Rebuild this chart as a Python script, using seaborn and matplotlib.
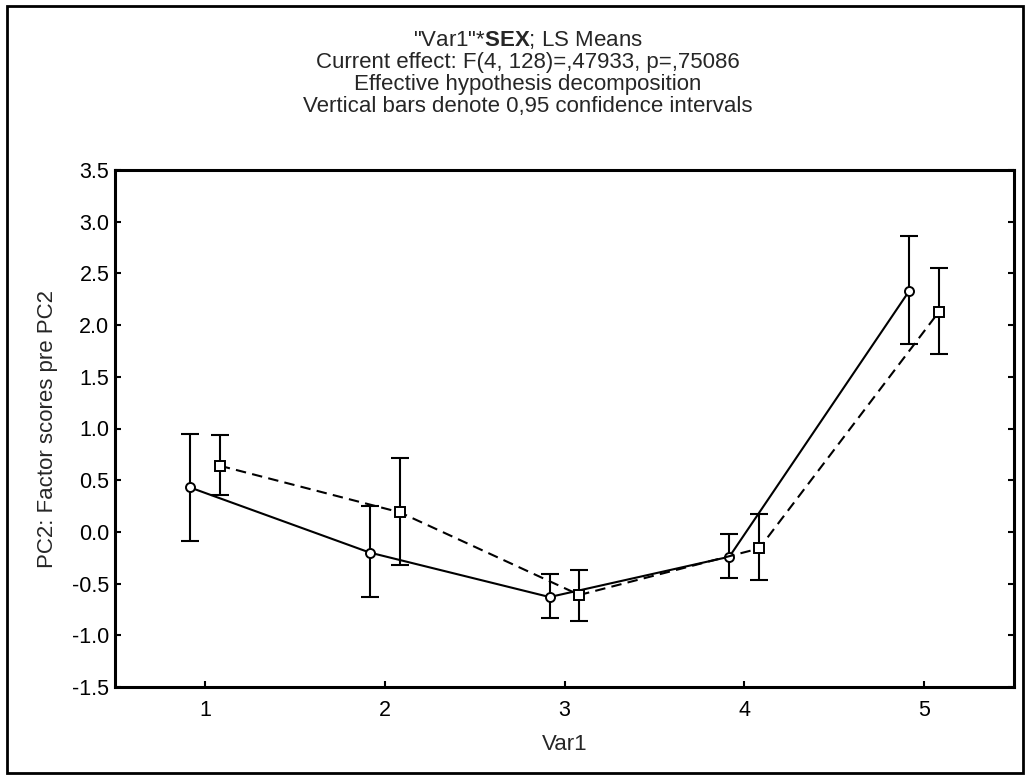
import numpy as np
import pandas as pd
import seaborn as sns
import matplotlib.pyplot as plt
from matplotlib.patches import Rectangle

# LS means and 0.95 CI
var1 = [1, 2, 3, 4, 5]
sex1_mean = [0.43, -0.20, -0.63, -0.24, 2.33]
sex1_lo = [-0.09, -0.63, -0.83, -0.45, 1.82]
sex1_hi = [0.95, 0.25, -0.41, -0.02, 2.86]
sex2_mean = [0.64, 0.19, -0.61, -0.16, 2.13]
sex2_lo = [0.36, -0.32, -0.86, -0.47, 1.72]
sex2_hi = [0.94, 0.71, -0.37, 0.17, 2.55]
y_ticks = [-1.5, -1.0, -0.5, 0.0, 0.5, 1.0, 1.5, 2.0, 2.5, 3.0, 3.5]

sns.set_style('ticks')
plt.rcParams['font.family'] = ['Liberation Sans', 'DejaVu Sans']
plt.rcParams['mathtext.fontset'] = 'custom'
plt.rcParams['mathtext.rm'] = 'Liberation Sans'
plt.rcParams['mathtext.bf'] = 'Liberation Sans:bold'

dodge = 0.083
df = pd.concat([
    pd.DataFrame({'Var1': var1, 'SEX': '1', 'mean': sex1_mean, 'lo': sex1_lo, 'hi': sex1_hi,
                  'x': np.array(var1) - dodge}),
    pd.DataFrame({'Var1': var1, 'SEX': '2', 'mean': sex2_mean, 'lo': sex2_lo, 'hi': sex2_hi,
                  'x': np.array(var1) + dodge}),
], ignore_index=True)

fig = plt.figure(figsize=(10.29, 7.78), dpi=100)
ax = fig.add_axes([115 / 1029, 1 - 687 / 778, (1014 - 115) / 1029, (687 - 170) / 778])

# confidence interval bars first, markers on top
ax.errorbar(df['x'], df['mean'], yerr=[df['mean'] - df['lo'], df['hi'] - df['mean']],
            fmt='none', ecolor='black', elinewidth=1.5, capsize=6.5, capthick=1.5, zorder=2)

sns.lineplot(data=df, x='x', y='mean', style='SEX', color='black',
             markers={'1': 'o', '2': 's'}, dashes={'1': '', '2': (5, 3)},
             markersize=6.5, markerfacecolor='white', markeredgecolor='black',
             markeredgewidth=1.4, linewidth=1.5, legend=False, ax=ax, zorder=3)

ax.set_xlim(0.5, 5.5)
ax.set_ylim(-1.5, 3.5)
ax.set_xticks(var1)
ax.set_xticklabels([str(v) for v in var1])
ax.set_yticks(y_ticks)
ax.set_yticklabels([f'{v:.1f}' for v in y_ticks])
ax.tick_params(direction='in', length=4, width=1.5, labelsize=15.5, right=True, colors='black')
ax.tick_params(axis='x', pad=9)
ax.tick_params(axis='y', pad=4)
for s in ax.spines.values():
    s.set_visible(True)
    s.set_linewidth(2.2)
    s.set_color('black')

ax.set_xlabel('Var1', fontsize=16, labelpad=10)
ax.set_ylabel('PC2: Factor scores pre PC2', fontsize=16, labelpad=10)

cx = 528 / 1029
titles = [r'"Var1"*$\mathbf{SEX}$; LS Means',
          'Current effect: F(4, 128)=,47933, p=,75086',
          'Effective hypothesis decomposition',
          'Vertical bars denote 0,95 confidence intervals']
for i, t in enumerate(titles):
    fig.text(cx, 1 - (40 + 22.3 * i) / 778, t, ha='center', va='center', fontsize=16)

# frame around the whole picture
fig.patches.append(Rectangle((7 / 1029, 5 / 778), 1016 / 1029, 767 / 778,
                             transform=fig.transFigure, fill=False,
                             edgecolor='black', linewidth=2))

fig.savefig('out.png', dpi=100)
